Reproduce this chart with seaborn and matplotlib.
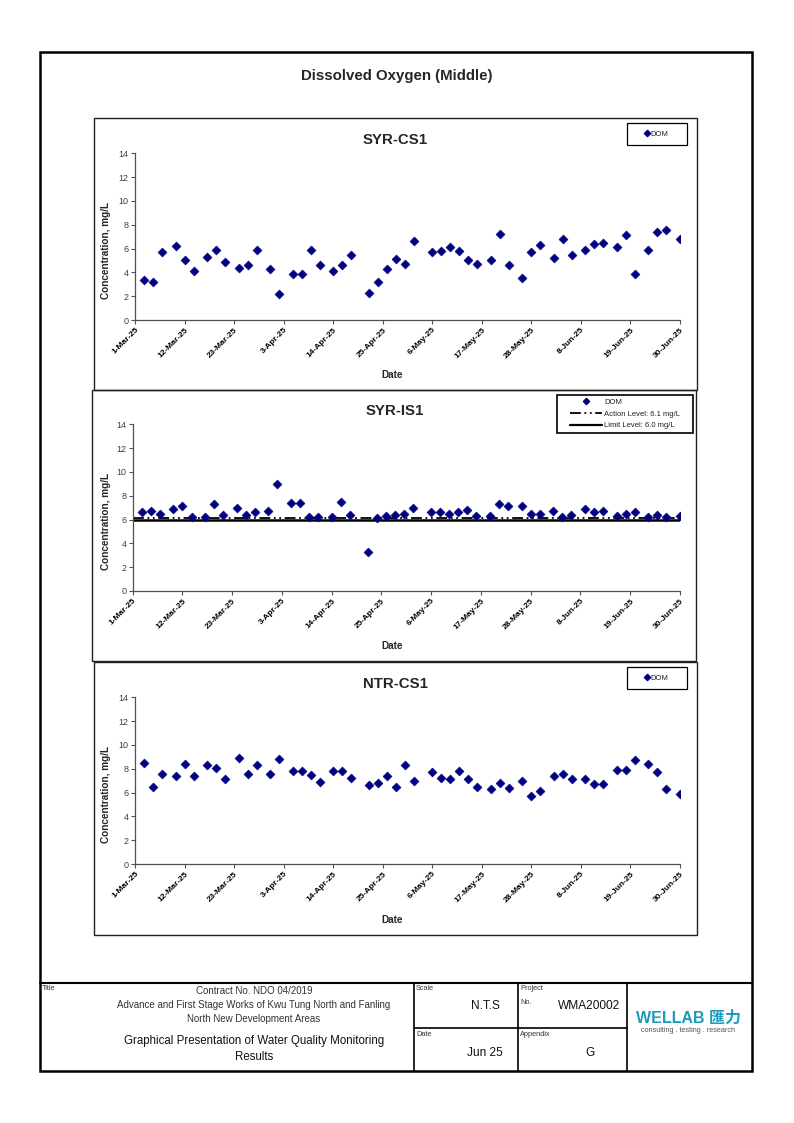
import matplotlib
matplotlib.use("Agg")
import matplotlib.pyplot as plt
import matplotlib.dates as mdates
from matplotlib.lines import Line2D
from matplotlib.patches import Rectangle
import seaborn as sns
import pandas as pd

# ---------------- data ----------------
sample_dates = [
    "2025-03-03", "2025-03-05", "2025-03-07", "2025-03-10", "2025-03-12", "2025-03-14",
    "2025-03-17", "2025-03-19", "2025-03-21", "2025-03-24", "2025-03-26", "2025-03-28",
    "2025-03-31", "2025-04-02", "2025-04-05", "2025-04-07", "2025-04-09", "2025-04-11",
    "2025-04-14", "2025-04-16", "2025-04-18", "2025-04-22", "2025-04-24", "2025-04-26",
    "2025-04-28", "2025-04-30", "2025-05-02", "2025-05-06", "2025-05-08", "2025-05-10",
    "2025-05-12", "2025-05-14", "2025-05-16", "2025-05-19", "2025-05-21", "2025-05-23",
    "2025-05-26", "2025-05-28", "2025-05-30", "2025-06-02", "2025-06-04", "2025-06-06",
    "2025-06-09", "2025-06-11", "2025-06-13", "2025-06-16", "2025-06-18", "2025-06-20",
    "2025-06-23", "2025-06-25", "2025-06-27", "2025-06-30",
]

syr_cs1 = [
    3.4, 3.2, 5.7, 6.2, 5.0, 4.1, 5.3, 5.9, 4.9, 4.4, 4.6, 5.9, 4.3,
    2.2, 3.9, 3.9, 5.9, 4.6, 4.1, 4.6, 5.5, 2.3, 3.2, 4.3, 5.1, 4.7,
    6.6, 5.7, 5.8, 6.1, 5.8, 5.0, 4.7, 5.0, 7.2, 4.6, 3.5, 5.7, 6.3,
    5.2, 6.8, 5.5, 5.9, 6.4, 6.5, 6.1, 7.1, 3.9, 5.9, 7.4, 7.6, 6.8,
]

syr_is1 = [
    6.6, 6.7, 6.5, 6.9, 7.1, 6.2, 6.2, 7.3, 6.4, 7.0, 6.4, 6.6, 6.7,
    9.0, 7.4, 7.4, 6.2, 6.2, 6.2, 7.5, 6.4, 3.3, 6.1, 6.3, 6.4, 6.5,
    7.0, 6.6, 6.6, 6.5, 6.6, 6.8, 6.3, 6.3, 7.3, 7.1, 7.1, 6.5, 6.5,
    6.7, 6.2, 6.4, 6.9, 6.6, 6.7, 6.3, 6.5, 6.6, 6.2, 6.4, 6.2, 6.3,
]

ntr_cs1 = [
    8.5, 6.5, 7.6, 7.4, 8.4, 7.4, 8.3, 8.1, 7.1, 8.9, 7.6, 8.3, 7.6,
    8.8, 7.8, 7.8, 7.5, 6.9, 7.8, 7.8, 7.2, 6.6, 6.8, 7.4, 6.5, 8.3,
    7.0, 7.7, 7.2, 7.1, 7.8, 7.1, 6.5, 6.3, 6.8, 6.4, 7.0, 5.7, 6.1,
    7.4, 7.6, 7.1, 7.1, 6.7, 6.7, 7.9, 7.9, 8.7, 8.4, 7.7, 6.3, 5.9,
]

station_names = ["SYR-CS1", "SYR-IS1", "NTR-CS1"]
series_label = "DOM"
action_level = 6.1
limit_level = 6.0
action_label = "Action Level: 6.1 mg/L"
limit_label = "Limit Level: 6.0 mg/L"
axis_start = "2025-03-01"
axis_end = "2025-06-30"
y_ticks = [0, 2, 4, 6, 8, 10, 12, 14]

main_title = "Dissolved Oxygen (Middle)"
y_label = "Concentration, mg/L"
x_label = "Date"

# ---------------- style ----------------
sns.set_theme(style="white")
plt.rcParams["font.family"] = ["Liberation Sans", "Noto Sans CJK SC", "DejaVu Sans"]

NAVY = "#000080"
W, H = 794, 1123
fig = plt.figure(figsize=(W / 100, H / 100), dpi=100)
fig.patch.set_facecolor("white")


def fx(px):
    return px / W


def fy(py):
    return 1 - py / H


def box_px(x0, y0, x1, y1, lw=1.0, color="black"):
    fig.add_artist(Rectangle((fx(x0), fy(y1)), fx(x1) - fx(x0), fy(y0) - fy(y1),
                             transform=fig.transFigure, fill=False, lw=lw,
                             edgecolor=color, facecolor="none"))


def hline_px(x0, x1, y, lw=1.0):
    fig.add_artist(Line2D([fx(x0), fx(x1)], [fy(y), fy(y)], transform=fig.transFigure,
                          color="black", lw=lw))


def vline_px(x, y0, y1, lw=1.0):
    fig.add_artist(Line2D([fx(x), fx(x)], [fy(y0), fy(y1)], transform=fig.transFigure,
                          color="black", lw=lw))


# outer frame
box_px(40, 52, 752, 1071, lw=1.8)
fig.text(fx(397), fy(76), main_title, ha="center", va="center", fontsize=10.8, fontweight="bold")

dates = pd.to_datetime(sample_dates)
tick_dates = pd.date_range(axis_start, axis_end, freq="11D")

panels = [
    # name, values, panel box (x0,y0,x1,y1), axes (left,top,right,bottom), title y, legend kind
    (station_names[0], syr_cs1, (94, 118, 697, 390), (135, 153.3, 680, 320), 140, "single"),
    (station_names[1], syr_is1, (92, 390, 696, 661), (132.7, 424.3, 680, 591), 411, "levels"),
    (station_names[2], ntr_cs1, (94, 662, 697, 935), (135, 697.3, 680, 864), 684, "single"),
]

for name, vals, pbox, apos, ty, legkind in panels:
    box_px(*pbox, lw=1.0, color="#202020")
    l, t, r, b = apos
    ax = fig.add_axes([fx(l), fy(b), fx(r) - fx(l), fy(t) - fy(b)])
    ax.set_facecolor("none")
    df = pd.DataFrame({"date": dates, "value": vals})
    if legkind == "levels":
        ax.axhline(limit_level, color="black", lw=1.8, ls="-", zorder=1)
        ax.axhline(action_level, color="black", lw=1.3, ls=(0, (6, 2, 1, 2, 1, 2)), zorder=1)
    sns.scatterplot(data=df, x="date", y="value", ax=ax, marker="D", s=21,
                    color=NAVY, edgecolor=NAVY, linewidth=0.4, zorder=3, legend=False)
    ax.set_xlim(pd.Timestamp(axis_start), pd.Timestamp(axis_end))
    ax.set_ylim(0, 14)
    ax.set_yticks(y_ticks)
    ax.set_xticks(tick_dates)
    ax.xaxis.set_major_formatter(mdates.DateFormatter("%-d-%b-%y"))
    for s in ["top", "right"]:
        ax.spines[s].set_visible(False)
    for s in ["left", "bottom"]:
        ax.spines[s].set_color("#505050")
        ax.spines[s].set_linewidth(0.9)
    ax.tick_params(axis="both", which="major", bottom=True, left=True, direction="out",
                   length=3, width=0.8, color="#505050", pad=1.5)
    ax.tick_params(axis="y", labelsize=6.5, labelcolor="#404040")
    ax.tick_params(axis="x", labelsize=6, labelcolor="black")
    for lab in ax.get_xticklabels():
        lab.set_rotation(45)
        lab.set_ha("right")
        lab.set_va("top")
        lab.set_rotation_mode("anchor")
        lab.set_fontweight("bold")
    ax.set_xlabel(x_label, fontsize=7.2, fontweight="bold")
    ax.set_ylabel(y_label, fontsize=7.2, fontweight="bold")
    ax.xaxis.set_label_coords((392 - l) / (r - l), -(pbox[3] - 20 - b) / (b - t))
    ax.yaxis.set_label_coords(-(l - 111) / (r - l), 0.5 - 14 / (b - t))
    fig.text(fx(395), fy(ty), name, ha="center", va="center", fontsize=10.8, fontweight="bold")

    if legkind == "single":
        lx0, ly0 = 627, pbox[1] + 5
        box_px(lx0, ly0, lx0 + 60, ly0 + 22, lw=0.9)
        h = [Line2D([], [], marker="D", ls="none", color=NAVY, ms=3.2)]
        leg = ax.legend(h, [series_label], loc="center", frameon=False,
                        bbox_to_anchor=(fx(lx0 + 30), fy(ly0 + 11)), bbox_transform=fig.transFigure,
                        fontsize=5.5, handlelength=0.5, handletextpad=0.15, borderpad=0)
    else:
        lx0, ly0, lx1, ly1 = 557, 395, 693, 433
        box_px(lx0, ly0, lx1, ly1, lw=1.2)
        h = [Line2D([], [], marker="D", ls="none", color=NAVY, ms=3.2),
             Line2D([], [], color="black", lw=1.3, ls=(0, (6, 2, 1, 2, 1, 2))),
             Line2D([], [], color="black", lw=1.6)]
        leg = ax.legend(h, [series_label, action_label, limit_label], loc="center", frameon=False,
                        bbox_to_anchor=(fx((lx0 + lx1) / 2), fy((ly0 + ly1) / 2)),
                        bbox_transform=fig.transFigure,
                        fontsize=5.5, handlelength=4.2, handletextpad=0.3, labelspacing=0.55,
                        borderpad=0)
    for txt in leg.get_texts():
        txt.set_color("#202020")

# ---------------- title block ----------------
hline_px(40, 752, 983, lw=1.5)
vline_px(414, 983, 1071, lw=1.2)
vline_px(517.5, 983, 1071, lw=1.2)
vline_px(626.5, 983, 1071, lw=1.2)
hline_px(414, 626.5, 1028, lw=1.2)

small = dict(fontsize=5.3, color="#333333", ha="left", va="center")
fig.text(fx(42), fy(989), "Title", **small)
fig.text(fx(416), fy(989), "Scale", **small)
fig.text(fx(416), fy(1034), "Date", **small)
fig.text(fx(520), fy(989), "Project", **small)
fig.text(fx(520), fy(1003), "No.", **small)
fig.text(fx(520), fy(1034), "Appendix", **small)

mid = dict(fontsize=7, color="#333333", ha="center", va="center")
fig.text(fx(254), fy(991), "Contract No. NDO 04/2019", **mid)
fig.text(fx(254), fy(1005), "Advance and First Stage Works of Kwu Tung North and Fanling", **mid)
fig.text(fx(254), fy(1019), "North New Development Areas", **mid)
fig.text(fx(254), fy(1041), "Graphical Presentation of Water Quality Monitoring",
         fontsize=8.3, color="#111111", ha="center", va="center")
fig.text(fx(254), fy(1057), "Results", fontsize=8.3, color="#111111", ha="center", va="center")

big = dict(fontsize=8.6, color="#111111", ha="center", va="center")
fig.text(fx(485), fy(1006), "N.T.S", **big)
fig.text(fx(485), fy(1053), "Jun 25", **big)
fig.text(fx(589), fy(1006), "WMA20002", **big)
fig.text(fx(590), fy(1053), "G", **big)

fig.text(fx(688), fy(1018), "WELLAB 匯力", fontsize=11.5, fontweight="bold", color="#1c9bbb",
         ha="center", va="center")
fig.text(fx(688), fy(1030), "consulting . testing . research", fontsize=5.2, color="#555555",
         ha="center", va="center")

fig.savefig("out.png", dpi=100, facecolor="white")
